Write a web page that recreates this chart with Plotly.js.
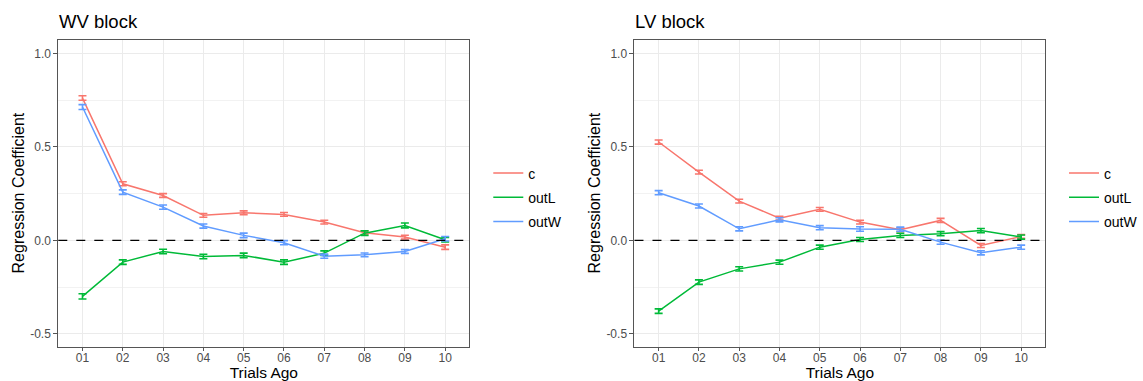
<!DOCTYPE html>
<html>
<head>
<meta charset="utf-8">
<script src="https://cdn.plot.ly/plotly-3.0.1.min.js"></script>
<style>html,body{margin:0;padding:0;background:#fff;}#chart{width:1143px;height:381px;}</style>
</head>
<body>
<div id="chart"></div>
<script>
// ---- data ----
const trials = ["01","02","03","04","05","06","07","08","09","10"];
const seriesNames = ["c","outL","outW"];
const seriesColors = ["#F8766D","#00BA38","#619CFF"];

// WV block
const wv_c    = [0.761, 0.303, 0.240, 0.134, 0.148, 0.139, 0.098, 0.041, 0.018, -0.036];
const wv_outL = [-0.299, -0.116, -0.059, -0.086, -0.080, -0.116, -0.068, 0.039, 0.080, 0.004];
const wv_outW = [0.713, 0.258, 0.178, 0.077, 0.027, -0.012, -0.084, -0.077, -0.059, 0.009];
const wv_c_se    = [0.012, 0.011, 0.010, 0.010, 0.010, 0.010, 0.010, 0.010, 0.010, 0.012];
const wv_outL_se = [0.014, 0.012, 0.012, 0.012, 0.012, 0.012, 0.012, 0.012, 0.013, 0.012];
const wv_outW_se = [0.013, 0.012, 0.011, 0.011, 0.012, 0.011, 0.011, 0.010, 0.010, 0.012];

// LV block
const lv_c    = [0.526, 0.365, 0.210, 0.119, 0.166, 0.098, 0.057, 0.107, -0.027, 0.021];
const lv_outL = [-0.378, -0.223, -0.152, -0.116, -0.036, 0.005, 0.027, 0.036, 0.053, 0.018];
const lv_outW = [0.255, 0.184, 0.062, 0.110, 0.068, 0.061, 0.060, -0.009, -0.066, -0.036];
const lv_c_se    = [0.011, 0.010, 0.010, 0.010, 0.010, 0.010, 0.010, 0.011, 0.011, 0.010];
const lv_outL_se = [0.012, 0.012, 0.011, 0.011, 0.011, 0.011, 0.011, 0.011, 0.011, 0.011];
const lv_outW_se = [0.011, 0.011, 0.011, 0.011, 0.011, 0.012, 0.011, 0.011, 0.011, 0.011];

const panelTitles = ["WV block", "LV block"];
const xTitle = "Trials Ago";
const yTitle = "Regression Coefficient";

// ---- build ----
const FONT = "Liberation Sans, Arial, sans-serif";
function mk(y, se, i, xa, ya, leg) {
  return {
    x: trials, y: y, type: "scatter", mode: "lines",
    name: seriesNames[i], xaxis: xa, yaxis: ya, legend: leg,
    legendgroup: leg + "_" + seriesNames[i],
    line: {color: seriesColors[i], width: 1.5},
    error_y: {type: "data", array: se, visible: true, color: seriesColors[i], thickness: 1.6, width: 4},
    hoverinfo: "x+y+name"
  };
}
const traces = [
  mk(wv_c, wv_c_se, 0, "x", "y", "legend"),
  mk(wv_outL, wv_outL_se, 1, "x", "y", "legend"),
  mk(wv_outW, wv_outW_se, 2, "x", "y", "legend"),
  mk(lv_c, lv_c_se, 0, "x2", "y2", "legend2"),
  mk(lv_outL, lv_outL_se, 1, "x2", "y2", "legend2"),
  mk(lv_outW, lv_outW_se, 2, "x2", "y2", "legend2")
];

const W = 1143, H = 381;
const yDom = [(H - 346.7) / H, (H - 39.5) / H];
function xax(dom, anchor) {
  return {
    domain: dom, anchor: anchor, type: "category", range: [-0.6, 9.6],
    showline: true, mirror: true, linecolor: "#555", linewidth: 1,
    ticks: "outside", ticklen: 3, tickcolor: "#555", tickwidth: 1,
    ticklabelstandoff: -3,
    showgrid: true, gridcolor: "#ebebeb", gridwidth: 1,
    tickfont: {family: FONT, size: 12, color: "#4d4d4d"},
    title: {text: xTitle, font: {family: FONT, size: 15.5, color: "#000"}, standoff: 0},
    zeroline: false, fixedrange: true
  };
}
function yax(anchor) {
  return {
    domain: yDom, anchor: anchor, range: [-0.568, 1.074],
    tickvals: [-0.5, 0, 0.5, 1.0], ticktext: ["-0.5", "0.0", "0.5", "1.0"],
    showline: true, mirror: true, linecolor: "#555", linewidth: 1,
    ticks: "outside", ticklen: 4, tickcolor: "#555", tickwidth: 1,
    showgrid: true, gridcolor: "#ebebeb", gridwidth: 1,
    minor: {tickvals: [-0.25, 0.25, 0.75], showgrid: true, gridcolor: "#f2f2f2", gridwidth: 1, ticks: ""},
    tickfont: {family: FONT, size: 12, color: "#4d4d4d"},
    title: {text: yTitle, font: {family: FONT, size: 16, color: "#000"}, standoff: 1},
    zeroline: false, fixedrange: true
  };
}
const x1d = [58.5 / W, 471 / W], x2d = [636.7 / W, 1049 / W];
const legY = (H - 197.5) / H;
const layout = {
  width: W, height: H,
  margin: {l: 0, r: 0, t: 0, b: 0},
  paper_bgcolor: "#fff", plot_bgcolor: "#fff",
  font: {family: FONT, color: "#000"},
  xaxis: xax(x1d, "y"), yaxis: yax("x"),
  xaxis2: xax(x2d, "y2"), yaxis2: yax("x2"),
  legend: {x: 490 / W, y: legY, xanchor: "left", yanchor: "middle", font: {family: FONT, size: 14}, bgcolor: "rgba(0,0,0,0)", itemwidth: 30, traceorder: "grouped", tracegroupgap: 3},
  legend2: {x: 1068 / W, y: legY, xanchor: "left", yanchor: "middle", font: {family: FONT, size: 14}, bgcolor: "rgba(0,0,0,0)", itemwidth: 30, traceorder: "grouped", tracegroupgap: 3},
  shapes: [
    {type: "line", xref: "x domain", yref: "y", x0: 0, x1: 1, y0: 0, y1: 0, line: {color: "#000", width: 1.3, dash: "dash"}, layer: "above"},
    {type: "line", xref: "x2 domain", yref: "y2", x0: 0, x1: 1, y0: 0, y1: 0, line: {color: "#000", width: 1.3, dash: "dash"}, layer: "above"}
  ],
  annotations: [
    {text: panelTitles[0], xref: "paper", yref: "paper", x: 57 / W, y: (H - 21.5) / H, xanchor: "left", yanchor: "middle", showarrow: false, font: {family: FONT, size: 18.5, color: "#000"}},
    {text: panelTitles[1], xref: "paper", yref: "paper", x: 635 / W, y: (H - 21.5) / H, xanchor: "left", yanchor: "middle", showarrow: false, font: {family: FONT, size: 18.5, color: "#000"}}
  ],
  hovermode: "closest"
};
Plotly.newPlot("chart", traces, layout, {displayModeBar: false, responsive: false});
</script>
</body>
</html>
